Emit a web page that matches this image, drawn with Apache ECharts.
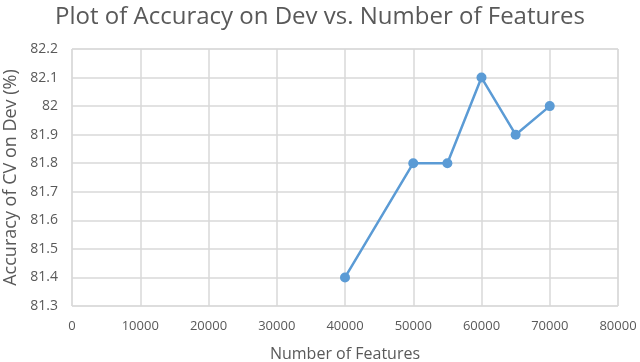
<!DOCTYPE html>
<html><head><meta charset="utf-8">
<script src="https://cdn.jsdelivr.net/npm/echarts@6/dist/echarts.min.js"></script>
<style>html,body{margin:0;padding:0;background:#fff}#c{width:640px;height:362px}</style>
</head><body><div id="c"></div>
<script>
const features = [40000, 50000, 55000, 60000, 65000, 70000];
const accuracy = [81.4, 81.8, 81.8, 82.1, 81.9, 82.0];
const chart = echarts.init(document.getElementById('c'));
const font = '"Open Sans", "Noto Sans", sans-serif';
chart.setOption({
  animation: false,
  title: {text: 'Plot of Accuracy on Dev vs. Number of Features', left: 'center', top: 0,
    textStyle: {fontFamily: font, fontWeight: 'normal', fontSize: 24, color: '#595959'}},
  grid: {left: 72, right: 22, top: 49, bottom: 56, show: true, borderColor: '#d9d9d9', borderWidth: 1,
    outerBoundsMode: 'none', containLabel: false},
  xAxis: {type: 'value', min: 0, max: 80000, interval: 10000,
    name: 'Number of Features', nameLocation: 'middle', nameGap: 40,
    nameTextStyle: {fontFamily: font, fontSize: 16, color: '#595959'},
    axisLine: {show: false}, axisTick: {show: false},
    axisLabel: {fontFamily: font, fontSize: 13, color: '#595959', margin: 14,
      formatter: v => String(v)},
    splitLine: {show: true, lineStyle: {color: '#d9d9d9', width: 1.5}}},
  yAxis: {type: 'value', min: 81.3, max: 82.2, interval: 0.1,
    name: 'Accuracy of CV on Dev (%)', nameLocation: 'middle', nameGap: 52, nameRotate: 90,
    nameTextStyle: {fontFamily: font, fontSize: 18, color: '#595959'},
    axisLine: {show: false}, axisTick: {show: false},
    axisLabel: {fontFamily: font, fontSize: 14, color: '#595959', margin: 14,
      formatter: v => String(Math.round(v * 10) / 10)},
    splitLine: {show: true, lineStyle: {color: '#d9d9d9', width: 1.5}}},
  series: [{type: 'line', data: features.map((f, i) => [f, accuracy[i]]),
    symbol: 'circle', symbolSize: 10,
    lineStyle: {color: '#5b9bd5', width: 2.5}, itemStyle: {color: '#5b9bd5'}}]
});
</script></body></html>
